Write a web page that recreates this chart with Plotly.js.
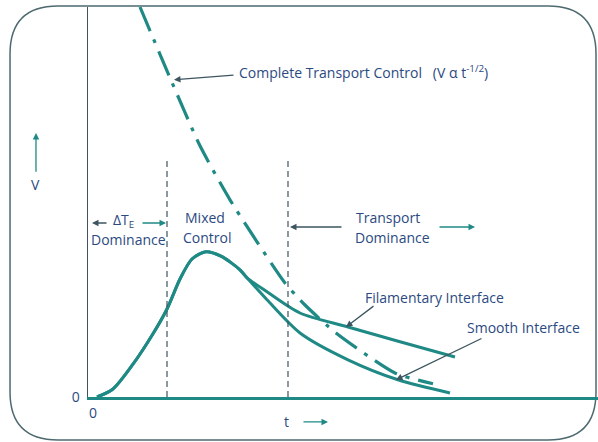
<!DOCTYPE html>
<html>
<head>
<meta charset="utf-8">
<script src="https://cdn.plot.ly/plotly-3.0.1.min.js"></script>
<style>html,body{margin:0;padding:0;background:#fff;}#chart{width:598px;height:442px;}</style>
</head>
<body>
<div id="chart"></div>
<script>
// Rising part shared by both interface curves (t, V in arbitrary units)
var riseT = [0.18, 0.5, 0.9, 1.3, 1.58, 1.84, 2.08, 2.36, 2.66, 3.04, 3.18];
var riseV = [0, 0.2, 0.82, 1.58, 2.2, 2.95, 3.45, 3.63, 3.52, 3.18, 2.98];
// Decay branches after the split
var filamentaryT = [3.58, 4.24, 5.2, 6.24, 7.34];
var filamentaryV = [2.63, 2.1, 1.75, 1.38, 1.0];
var smoothT = [3.58, 4.24, 5.2, 6.2, 7.24];
var smoothV = [2.43, 1.6, 0.93, 0.43, 0.1];
// Complete transport control (V ~ t^-1/2)
var transportT = [1.04, 1.64, 2.24, 2.84, 3.94, 4.34, 4.96, 6.14, 6.9];
var transportV = [9.75, 7.98, 6.28, 4.93, 2.85, 2.3, 1.6, 0.6, 0.33];
// Regime boundaries (t) and their top (V)
var boundaries = [1.58, 4.0];
var boundaryTop = 5.93;
// Tick labels
var tickVals = [0];
var tickText = ["0"];

var teal = "#1f8a85";
var navy = "#2b4a7f";
var slate = "#3d5560";

var traces = [
  {x: riseT.concat(filamentaryT), y: riseV.concat(filamentaryV), mode: "lines",
   line: {color: teal, width: 3, shape: "spline", smoothing: 0.8}, hoverinfo: "skip"},
  {x: riseT.concat(smoothT), y: riseV.concat(smoothV), mode: "lines",
   line: {color: teal, width: 3, shape: "spline", smoothing: 0.8}, hoverinfo: "skip"},
  {x: transportT, y: transportV, mode: "lines",
   line: {color: teal, width: 3.2, shape: "spline", smoothing: 0.6, dash: "26px,9px,4px,9px"}, hoverinfo: "skip"}
];
boundaries.forEach(function (b) {
  traces.push({x: [b, b], y: [0, boundaryTop], mode: "lines",
    line: {color: slate, width: 1.2, dash: "6px,4px"}, hoverinfo: "skip"});
});

var font = {family: "Open Sans, sans-serif", size: 14, color: navy};
function txt(x, y, t, extra) {
  var a = {x: x, y: y, xref: "x", yref: "y", text: t, showarrow: false, font: font};
  for (var k in extra) a[k] = extra[k];
  return a;
}
function arr(x, y, ax, ay, color, ref) {
  return {x: x, y: y, ax: ax, ay: ay, xref: ref || "x", yref: ref ? "paper" : "y",
    axref: ref || "x", ayref: ref ? "paper" : "y", text: "", showarrow: true,
    arrowhead: 2, arrowsize: 1, arrowwidth: 1.3, arrowcolor: color};
}

var annotations = [
  txt(2.98, 8.125, "Complete Transport Control   (V α t<sup>-1/2</sup>)", {xanchor: "left"}),
  arr(1.72, 7.93, 2.94, 8.05, slate),
  txt(0.7, 4.42, "ΔT<sub>E</sub>"),
  arr(0.08, 4.35, 0.4, 4.35, slate),
  arr(1.56, 4.35, 1.06, 4.35, teal),
  txt(0.8, 3.93, "Dominance"),
  txt(2.34, 4.5, "Mixed"),
  txt(2.38, 4.0, "Control"),
  txt(6.0, 4.5, "Transport"),
  txt(6.08, 4.0, "Dominance"),
  arr(4.04, 4.25, 5.1, 4.25, slate),
  arr(7.74, 4.25, 7.0, 4.25, teal),
  txt(6.92, 2.5, "Filamentary Interface"),
  arr(5.16, 1.75, 5.74, 2.3, slate),
  txt(8.7, 1.73, "Smooth Interface"),
  arr(6.16, 0.43, 7.9, 1.48, slate),
  {x: -0.102, y: 0.544, xref: "paper", yref: "paper", text: "V", showarrow: false, font: font,
   xanchor: "center", yanchor: "middle"},
  arr(-0.102, 0.677, -0.102, 0.574, teal, "paper"),
  {x: 0.39, y: -0.064, xref: "paper", yref: "paper", text: "t", showarrow: false, font: font,
   xanchor: "center", yanchor: "middle"},
  arr(0.4706, -0.064, 0.4196, -0.064, teal, "paper")
];

// Rounded frame around the figure (paper coords: x=(px-88)/510, y=(397-py)/390)
function px(p) { return ((p - 88) / 510).toFixed(4); }
function py(p) { return ((397 - p) / 390).toFixed(4); }
var L = 10, R = 596, T = 6, B = 440, r = 48;
var framePath = "M " + px(L + r) + "," + py(T) +
  " L " + px(R - r) + "," + py(T) + " Q " + px(R) + "," + py(T) + " " + px(R) + "," + py(T + r) +
  " L " + px(R) + "," + py(B - r) + " Q " + px(R) + "," + py(B) + " " + px(R - r) + "," + py(B) +
  " L " + px(L + r) + "," + py(B) + " Q " + px(L) + "," + py(B) + " " + px(L) + "," + py(B - r) +
  " L " + px(L) + "," + py(T + r) + " Q " + px(L) + "," + py(T) + " " + px(L + r) + "," + py(T) + " Z";

var layout = {
  width: 598, height: 442,
  margin: {l: 88, r: 0, t: 7, b: 45},
  paper_bgcolor: "#ffffff", plot_bgcolor: "rgba(0,0,0,0)",
  showlegend: false,
  xaxis: {range: [0, 10.2], showgrid: false, zeroline: false, showline: true,
    linecolor: teal, linewidth: 2.5, tickvals: tickVals, ticktext: tickText, ticks: "",
    ticklabelshift: 5, ticklabelstandoff: 2, tickfont: font, fixedrange: true},
  yaxis: {range: [0, 9.75], showgrid: false, zeroline: false, showline: true,
    linecolor: slate, linewidth: 1.5, tickvals: tickVals, ticktext: tickText, ticks: "",
    ticklabelstandoff: 4, tickfont: font, fixedrange: true},
  annotations: annotations,
  shapes: [{type: "path", xref: "paper", yref: "paper", path: framePath,
    line: {color: "#4e6a70", width: 1.5}, layer: "below"}]
};

Plotly.newPlot("chart", traces, layout, {displayModeBar: false, staticPlot: true});
</script>
</body>
</html>
